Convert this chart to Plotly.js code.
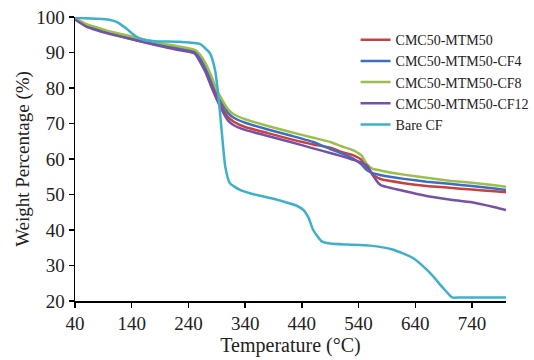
<!DOCTYPE html>
<html>
<head>
<meta charset="utf-8">
<script src="https://cdn.plot.ly/plotly-3.0.1.min.js"></script>
<style>html,body{margin:0;padding:0;background:#fff;}#chart{width:534px;height:360px;}</style>
</head>
<body>
<div id="chart"></div>
<script>
var seriesNames = ["CMC50-MTM50", "CMC50-MTM50-CF4", "CMC50-MTM50-CF8", "CMC50-MTM50-CF12", "Bare CF"];

var tempComposite = [40, 60, 80, 100, 140, 180, 220, 240, 252, 260, 270, 280, 290, 300, 310, 320, 340, 380, 420, 460, 490, 510, 530, 545, 555, 565, 575, 580, 620, 660, 700, 740, 780, 800];

var wMTM50 = [99.5, 97.6, 96.5, 95.5, 93.8, 92.3, 91.0, 90.4, 89.8, 88.0, 85.2, 81.5, 77.8, 74.5, 71.8, 70.5, 69.0, 67.3, 65.6, 64.1, 63.2, 62.0, 61.1, 59.8, 57.6, 55.6, 54.6, 54.3, 53.2, 52.4, 51.9, 51.4, 50.9, 50.6];
var wCF4 = [99.5, 97.8, 96.7, 95.7, 94.0, 92.6, 91.4, 90.9, 90.3, 88.8, 86.0, 82.5, 79.0, 75.8, 73.0, 71.6, 70.2, 68.3, 66.6, 64.8, 62.8, 61.6, 60.2, 58.5, 56.8, 56.0, 55.6, 55.4, 54.4, 53.6, 53.0, 52.4, 51.7, 51.3];
var wCF8 = [99.6, 98.0, 97.0, 96.0, 94.5, 93.0, 91.8, 91.2, 90.7, 89.5, 87.0, 83.5, 79.5, 76.5, 74.0, 72.6, 71.2, 69.3, 67.6, 66.0, 64.8, 63.6, 62.5, 61.0, 58.5, 57.2, 56.9, 56.7, 55.6, 54.7, 53.9, 53.3, 52.6, 52.2];
var wCF12 = [99.3, 97.3, 96.2, 95.3, 93.7, 92.2, 90.8, 90.2, 89.6, 87.5, 84.5, 80.5, 76.8, 73.5, 70.8, 69.5, 68.2, 66.5, 64.8, 63.0, 61.7, 60.8, 59.8, 59.0, 58.2, 55.5, 53.2, 52.6, 51.0, 49.6, 48.6, 47.8, 46.4, 45.6];

var tempBare = [40, 80, 100, 115, 130, 145, 160, 180, 225, 260, 278, 287, 293, 299, 305, 313, 331, 350, 384, 410, 430, 443, 452, 460, 475, 490, 520, 560, 600, 636, 666, 689, 705, 720, 800];
var wBare = [99.8, 99.5, 99.2, 98.5, 96.8, 94.8, 93.6, 93.2, 93.0, 92.4, 89.8, 85.0, 77.5, 67.3, 57.8, 53.2, 51.3, 50.3, 49.0, 47.9, 46.9, 45.6, 43.4, 40.0, 36.8, 36.2, 35.9, 35.6, 34.5, 32.1, 27.9, 23.7, 21.0, 21.0, 21.0];

var xTicks = [40, 140, 240, 340, 440, 540, 640, 740];
var yTicks = [20, 30, 40, 50, 60, 70, 80, 90, 100];

var colors = ["#c8413f", "#3d6fc0", "#9cbf4b", "#7651a5", "#3fb0cc"];
var xs = [tempComposite, tempComposite, tempComposite, tempComposite, tempBare];
var ys = [wMTM50, wCF4, wCF8, wCF12, wBare];

var traces = seriesNames.map(function (n, i) {
  return {
    x: xs[i], y: ys[i], name: n, type: "scatter", mode: "lines",
    line: {color: colors[i], width: 2.5, shape: "spline", smoothing: 0.5}
  };
});

var font = "Liberation Serif";
var layout = {
  width: 534, height: 360,
  margin: {l: 75, r: 28, t: 17, b: 59, autoexpand: false},
  paper_bgcolor: "#fff", plot_bgcolor: "#fff",
  font: {family: font, color: "#222"},
  showlegend: true,
  legend: {
    x: 0.651, y: 0.975, xanchor: "left", yanchor: "top",
    font: {family: font, size: 14, color: "#222"},
    bgcolor: "rgba(255,255,255,0)", tracegroupgap: 0, itemwidth: 30
  },
  xaxis: {
    range: [40, 800], tickvals: xTicks, ticktext: xTicks.map(String),
    showgrid: false, zeroline: false, showline: true, linecolor: "#000", linewidth: 1.5,
    ticks: "outside", ticklen: 5, tickwidth: 1.5, tickcolor: "#000",
    tickfont: {family: font, size: 19, color: "#222"},
    title: {text: "Temperature (°C)", font: {family: font, size: 20, color: "#222"}, standoff: 4}
  },
  yaxis: {
    range: [20, 100], tickvals: yTicks, ticktext: yTicks.map(String),
    showgrid: false, zeroline: false, showline: true, linecolor: "#000", linewidth: 1.5,
    ticks: "outside", ticklen: 5, tickwidth: 1.5, tickcolor: "#000",
    tickfont: {family: font, size: 19, color: "#222"},
    title: {text: "Weight Percentage (%)", font: {family: font, size: 19, color: "#222"}, standoff: 1}
  }
};

Plotly.newPlot("chart", traces, layout, {displayModeBar: false, staticPlot: true});
</script>
</body>
</html>
